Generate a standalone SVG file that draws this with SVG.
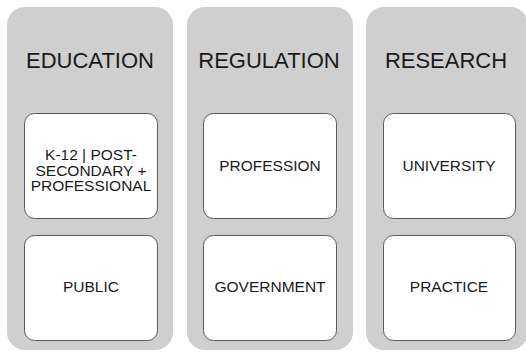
<svg xmlns="http://www.w3.org/2000/svg" width="526" height="356" viewBox="0 0 526 356">
<style>
.col{fill:#cfcfcf;}
.box{fill:#ffffff;stroke:#5a5a5a;stroke-width:1;}
.hd{font-family:"Liberation Sans",Arial,sans-serif;font-size:22px;fill:#1a1a1a;text-anchor:middle;}
.lb{font-family:"Liberation Sans",Arial,sans-serif;font-size:15.5px;fill:#1a1a1a;text-anchor:middle;}
</style>
<rect width="526" height="356" fill="#ffffff"/>
<g id="education">
<rect class="col" x="7" y="7" width="166" height="343" rx="18"/>
<text class="hd" x="90" y="68">EDUCATION</text>
</g>
<g id="regulation">
<rect class="col" x="187" y="7" width="166" height="343" rx="18"/>
<text class="hd" x="269" y="68">REGULATION</text>
</g>
<g id="research">
<rect class="col" x="366" y="7" width="162" height="343" rx="18"/>
<text class="hd" x="446" y="68">RESEARCH</text>
</g>
<g id="k12">
<rect class="box" x="24.5" y="113.5" width="133" height="105" rx="10"/>
<text class="lb" x="91" y="160">K-12 | POST-</text>
<text class="lb" x="91" y="175.5">SECONDARY +</text>
<text class="lb" x="91" y="191">PROFESSIONAL</text>
</g>
<g id="public">
<rect class="box" x="24.5" y="235.5" width="133" height="105" rx="10"/>
<text class="lb" x="91" y="292">PUBLIC</text>
</g>
<g id="profession">
<rect class="box" x="203.5" y="113.5" width="133" height="105" rx="10"/>
<text class="lb" x="270" y="171">PROFESSION</text>
</g>
<g id="government">
<rect class="box" x="203.5" y="235.5" width="133" height="105" rx="10"/>
<text class="lb" x="270" y="292">GOVERNMENT</text>
</g>
<g id="university">
<rect class="box" x="383.5" y="113.5" width="132" height="105" rx="10"/>
<text class="lb" x="449" y="171">UNIVERSITY</text>
</g>
<g id="practice">
<rect class="box" x="383.5" y="235.5" width="132" height="105" rx="10"/>
<text class="lb" x="449" y="292">PRACTICE</text>
</g>
<g id="connectors"></g>
</svg>
